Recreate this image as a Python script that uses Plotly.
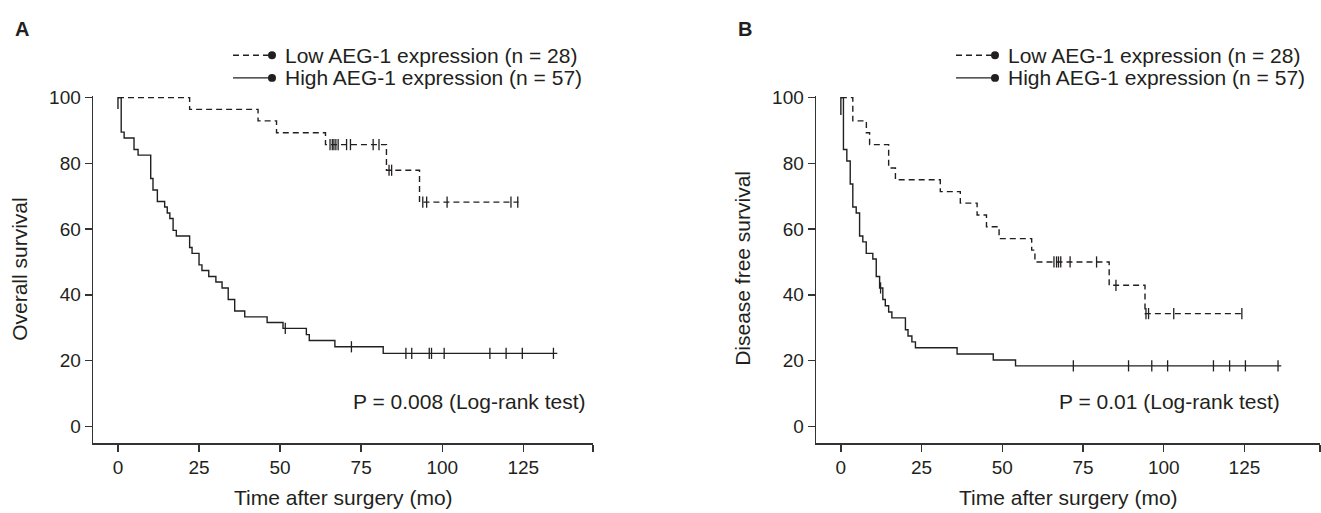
import numpy as np
import plotly.graph_objects as go

# ---------------- data ----------------
x_ticks = [0, 25, 50, 75, 100, 125]
y_ticks = [0, 20, 40, 60, 80, 100]

# Panel A: overall survival
a_low_t = [0, 22.1, 43.2, 48.9, 64.0, 82.8, 93.0, 123.5]
a_low_s = [100, 96.4, 92.9, 89.3, 85.7, 77.9, 68.2, 68.2]
a_low_cens = [65.4, 66.1, 66.6, 67.2, 67.9, 70.5, 71.7, 78.7, 80.5, 83.6, 84.4,
              94.0, 95.2, 101.5, 121.2, 123.3]

a_high_t = [0, 0, 1.0, 1.9, 4.95, 6.2, 10.1, 10.8, 12.15, 14.4, 15.2, 16.0, 17.0, 18.0,
            22.1, 22.85, 25.0, 25.9, 28.0, 30.2, 32.1, 34.0, 36.0, 39.1, 46.0, 50.9,
            58.1, 59.0, 66.9, 81.8, 135.5]
a_high_s = [96.5, 100, 89.5, 87.7, 84.2, 82.5, 75.4, 71.9, 68.4, 66.7, 64.9, 63.2, 59.6, 57.9,
            54.4, 52.6, 49.1, 47.4, 45.6, 43.9, 42.1, 38.6, 35.1, 33.3, 31.6, 29.8,
            27.9, 26.1, 24.2, 22.2, 22.2]
a_high_cens = [51.6, 72.0, 88.8, 90.6, 96.0, 96.7, 100.6, 114.7, 119.7, 124.7, 134.3]

# Panel B: disease free survival
b_low_t = [0, 3.7, 7.9, 8.9, 14.8, 16.9, 30.8, 37.0, 42.2, 45.1, 49.0, 59.1, 60.1,
           83.1, 94.2, 125.0]
b_low_s = [100, 92.9, 89.3, 85.7, 78.6, 75.0, 71.4, 67.9, 64.3, 60.7, 57.1, 53.6, 50.0,
           42.9, 34.3, 34.3]
b_low_cens = [66.0, 66.8, 67.4, 68.1, 71.0, 79.2, 85.2, 94.5, 95.3, 103.1, 124.2]

b_high_t = [0, 0, 0.8, 1.85, 2.9, 3.7, 4.75, 5.8, 6.8, 7.86, 9.9, 10.96, 12.0, 13.0,
            13.76, 14.8, 15.8, 20.0, 20.8, 22.0, 23.1, 36.0, 47.2, 54.1, 136.4]
b_high_s = [94.7, 100, 84.2, 80.7, 73.7, 66.7, 64.9, 57.9, 56.1, 52.6, 50.9, 45.6, 42.1,
            38.6, 36.7, 34.8, 33.0, 29.4, 27.5, 25.7, 23.9, 22.0, 20.2, 18.4, 18.4]
b_high_cens = [12.3, 72.0, 89.1, 96.3, 101.2, 115.4, 120.4, 125.3, 135.4]

legend_labels = ["Low AEG-1 expression (n = 28)", "High AEG-1 expression (n = 57)"]
panel_letters = ["A", "B"]
y_titles = ["Overall survival", "Disease free survival"]
x_title = "Time after surgery (mo)"
p_texts = ["P = 0.008 (Log-rank test)", "P = 0.01 (Log-rank test)"]

# ---------------- styling / layout ----------------
W, H = 1321, 513
FONT = "Liberation Sans, Arial, Helvetica, sans-serif"
INK = "#231f20"
AX = "#333333"
DASH = "6px,4px"


def px(x):
    return x / W


def py(y):
    return 1 - y / H


def step_value(ts, ss, t):
    ts = np.asarray(ts)
    i = np.searchsorted(ts, t, side="right") - 1
    return ss[max(i, 0)]


fig = go.Figure()

panels = [
    dict(xa="x", ya="y", x0=93, x1=593, xmax=146.5,
         low=(a_low_t, a_low_s, a_low_cens), high=(a_high_t, a_high_s, a_high_cens),
         p_right=588, p_y=400, ytitle_x=20),
    dict(xa="x2", ya="y2", x0=816, x1=1320, xmax=148.4,
         low=(b_low_t, b_low_s, b_low_cens), high=(b_high_t, b_high_s, b_high_cens),
         p_right=1282, p_y=400, ytitle_x=743),
]

y_top_px, y_bot_px = 89, 442          # y=100 sits at ~91 px
y_min, y_max = -5.1, 100.6

layout_axes = {}
annotations = []
shapes = []

for k, p in enumerate(panels):
    for (ts, ss, cens), dash in [(p["low"], DASH), (p["high"], "solid")]:
        fig.add_trace(go.Scatter(
            x=ts, y=ss, mode="lines", line=dict(shape="hv", color=INK, width=1.4, dash=dash),
            xaxis=p["xa"], yaxis=p["ya"], showlegend=False, hoverinfo="skip"))
        cv = [step_value(ts, ss, c) for c in cens]
        fig.add_trace(go.Scatter(
            x=cens, y=cv, mode="markers",
            marker=dict(symbol="line-ns", size=8, line=dict(color=INK, width=1.3)),
            xaxis=p["xa"], yaxis=p["ya"], showlegend=False, hoverinfo="skip", cliponaxis=False))

    sfx = "" if k == 0 else str(k + 1)
    xmin = -7.7
    layout_axes["xaxis" + sfx] = dict(
        domain=[px(p["x0"]), px(p["x1"])], range=[xmin, p["xmax"]],
        tickmode="array", tickvals=x_ticks + [p["xmax"]],
        ticktext=[str(v) for v in x_ticks] + [""],
        ticks="outside", ticklen=7, tickwidth=1.4, tickcolor=AX,
        showline=True, linecolor=AX, linewidth=1.4, showgrid=False, zeroline=False,
        tickfont=dict(family=FONT, size=19, color=INK),
        anchor="y" + sfx, fixedrange=True)
    layout_axes["yaxis" + sfx] = dict(
        domain=[py(y_bot_px), py(y_top_px)], range=[y_min, y_max],
        tickmode="array", tickvals=y_ticks, ticktext=[str(v) for v in y_ticks],
        ticks="outside", ticklen=7, tickwidth=1.4, tickcolor=AX,
        showline=True, linecolor=AX, linewidth=1.4, showgrid=False, zeroline=False,
        tickfont=dict(family=FONT, size=19, color=INK),
        anchor="x" + sfx, fixedrange=True)

    off = p["x0"] - 93
    # panel letter
    annotations.append(dict(x=px(13 + off), y=py(21), xref="paper", yref="paper",
                            text="<b>%s</b>" % panel_letters[k], showarrow=False,
                            xanchor="left", yanchor="middle",
                            font=dict(family=FONT, size=20, color=INK)))
    # legend
    for j, (lab, dash) in enumerate(zip(legend_labels, [DASH, "solid"])):
        yy = [48, 71][j]
        shapes.append(dict(type="line", xref="paper", yref="paper",
                           x0=px(233 + off), x1=px(270 + off), y0=py(yy), y1=py(yy),
                           line=dict(color=INK, width=1.4, dash=dash)))
        shapes.append(dict(type="circle", xref="paper", yref="paper",
                           x0=px(268 + off), x1=px(276 + off), y0=py(yy + 4), y1=py(yy - 4),
                           fillcolor=INK, line=dict(color=INK, width=0)))
        annotations.append(dict(x=px(283 + off), y=py(yy), xref="paper", yref="paper",
                                text=lab, showarrow=False, xanchor="left", yanchor="middle",
                                font=dict(family=FONT, size=21, color=INK)))
    # axis titles
    annotations.append(dict(x=px((p["x0"] + p["x1"]) / 2), y=py(497), xref="paper", yref="paper",
                            text=x_title, showarrow=False, xanchor="center", yanchor="middle",
                            font=dict(family=FONT, size=21, color=INK)))
    annotations.append(dict(x=px(p["ytitle_x"]), y=py(265), xref="paper", yref="paper",
                            text=y_titles[k], showarrow=False, textangle=-90,
                            xanchor="center", yanchor="middle",
                            font=dict(family=FONT, size=21, color=INK)))
    # p-value
    annotations.append(dict(x=px(p["p_right"]), y=py(p["p_y"]), xref="paper", yref="paper",
                            text=p_texts[k], showarrow=False, xanchor="right", yanchor="middle",
                            font=dict(family=FONT, size=21, color=INK)))

fig.update_layout(
    width=W, height=H, margin=dict(l=0, r=0, t=0, b=0),
    paper_bgcolor="white", plot_bgcolor="white",
    showlegend=False, annotations=annotations, shapes=shapes,
    hovermode=False, **layout_axes)

# remove the browser's default 8px body margin so the figure sits at (0, 0)
fig.write_html("out.html",
               config={"displayModeBar": False, "staticPlot": True},
               post_script="document.body.style.margin='0';document.body.style.overflow='hidden';")
